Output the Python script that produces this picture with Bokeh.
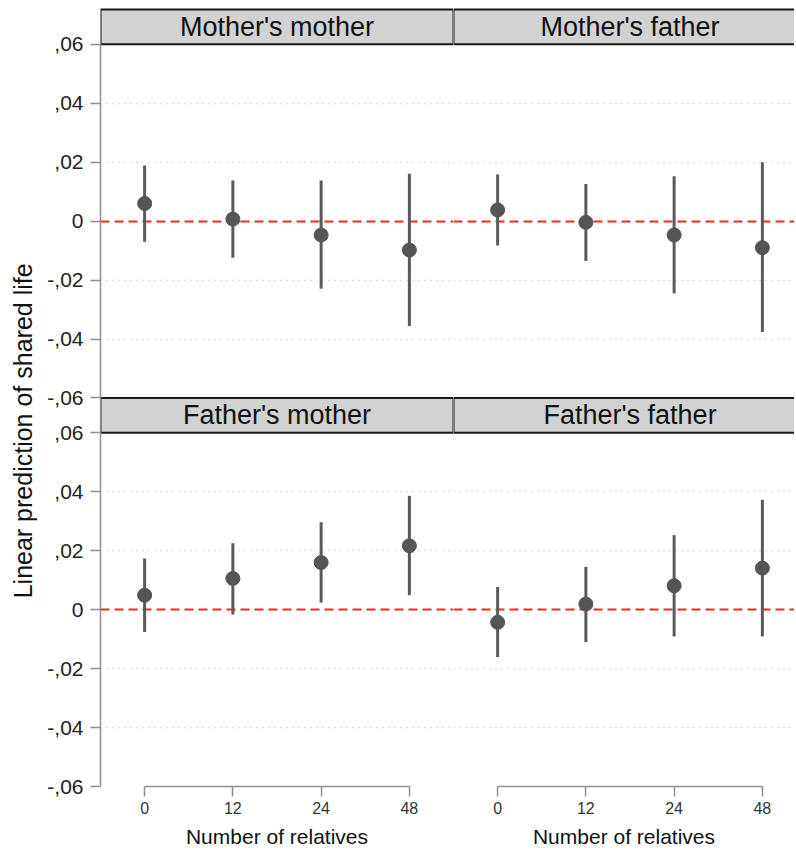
from bokeh.plotting import figure
from bokeh.layouts import row
from bokeh.models import (LinearAxis, FixedTicker, CustomJSTickFormatter, Range1d,
                          Grid, ColumnDataSource)
from bokeh.transform import dodge
from bokeh.core.properties import value
from bokeh.embed import file_html
from bokeh.resources import INLINE

# ---------------- data ----------------
PANEL_TITLES = ["Mother's mother", "Mother's father", "Father's mother", "Father's father"]
X_POS = [1, 2, 3, 4]
X_LABELS = ["0", "12", "24", "48"]
Y_TICKS = [-0.06, -0.04, -0.02, 0, 0.02, 0.04, 0.06]
Y_LABELS = ["-,06", "-,04", "-,02", "0", ",02", ",04", ",06"]
GRID_TICKS = [-0.04, -0.02, 0.02, 0.04]

MM_EST = [0.0060, 0.0007, -0.0047, -0.0098]
MM_LO = [-0.0070, -0.0124, -0.0229, -0.0356]
MM_HI = [0.0189, 0.0138, 0.0138, 0.0161]

MF_EST = [0.0038, -0.0004, -0.0047, -0.0090]
MF_LO = [-0.0083, -0.0135, -0.0245, -0.0376]
MF_HI = [0.0158, 0.0126, 0.0152, 0.0200]

FM_EST = [0.0049, 0.0106, 0.0160, 0.0217]
FM_LO = [-0.0076, -0.0016, 0.0024, 0.0049]
FM_HI = [0.0174, 0.0225, 0.0297, 0.0386]

FF_EST = [-0.0043, 0.0019, 0.0081, 0.0141]
FF_LO = [-0.0161, -0.0110, -0.0091, -0.0091]
FF_HI = [0.0077, 0.0145, 0.0253, 0.0373]

X_TITLE = "Number of relatives"
Y_TITLE = "Linear prediction of shared life"

# ---------------- layout constants ----------------
FONT = "Liberation Sans"
TOTAL_W, TOTAL_H = 794, 850
TITLE_W = 44                         # strip holding the y title
LEFT_B = 100 - TITLE_W               # room for y ticks + tick labels
PAD_TOP = 9
HDR = 35
PNL = 355
FRAME_H = PAD_TOP + 2 * (HDR + PNL)
BOTTOM_B = TOTAL_H - FRAME_H
LEFT_FRAME_W = 353
UNIT = LEFT_FRAME_W / 4.0
RIGHT_FRAME_W = TOTAL_W - 100 - LEFT_FRAME_W
YMIN, YMAX = Y_TICKS[0], Y_TICKS[-1]
DPP = (YMAX - YMIN) / PNL
ROW_OFF = (PNL + HDR) * DPP          # vertical offset of the upper facet row
YTITLE_X_PX = 22                     # centre of the y title, px from the left edge
YTITLE_Y_PX = 432                    # centre of the y title, px from the top

fmt_code = """
const i = tvals.findIndex(t => Math.abs(t - tick) < 1e-9);
return i >= 0 ? tlabels[i] : "";
"""

AX_COL = "#8f8f8f"


def bare_fig(**kw):
    return figure(output_backend="svg", toolbar_location=None,
                  x_axis_type=None, y_axis_type=None, title_location=None,
                  outline_line_color=None, background_fill_color="white",
                  border_fill_color="white", **kw)


def make_fig(is_left, top_panel, bottom_panel):
    fw = LEFT_FRAME_W if is_left else RIGHT_FRAME_W
    p = bare_fig(width=fw + (LEFT_B if is_left else 0), height=TOTAL_H,
                 x_range=Range1d(0.5, 0.5 + fw / UNIT),
                 y_range=Range1d(YMIN, YMIN + FRAME_H * DPP),
                 min_border_left=LEFT_B if is_left else 0, min_border_right=0,
                 min_border_top=0, min_border_bottom=BOTTOM_B)

    # dotted grid lines and red dashed zero lines (both facet rows)
    p.add_layout(Grid(dimension=1,
                      ticker=FixedTicker(ticks=GRID_TICKS + [t + ROW_OFF for t in GRID_TICKS]),
                      grid_line_color="#c4c4c4", grid_line_dash="1 5", grid_line_width=1.3))
    p.add_layout(Grid(dimension=1, ticker=FixedTicker(ticks=[0, ROW_OFF]),
                      grid_line_color="#ee2a24", grid_line_dash="9 5", grid_line_width=2))

    mid = (X_POS[0] + X_POS[-1]) / 2.0
    for (title, est, lo, hi), off in [(top_panel, ROW_OFF), (bottom_panel, 0.0)]:
        p.quad(left=[X_POS[0] - 0.5], right=[X_POS[-1] + 0.5],
               bottom=[YMAX + off], top=[YMAX + HDR * DPP + off],
               fill_color="#d2d2d2", line_color="#1a1a1a", line_width=2)
        p.text(x=[mid], y=[YMAX + HDR * DPP / 2 + off], text=[title],
               text_font=value(FONT), text_font_size="27px", text_color="#111111",
               text_align="center", text_baseline="middle")
        src = ColumnDataSource(dict(x=X_POS, est=est, lo=lo, hi=hi))
        p.segment(x0="x", x1="x", y0=dodge("lo", off), y1=dodge("hi", off), source=src,
                  line_color="#5a5a5a", line_width=3)
        p.scatter(x="x", y=dodge("est", off), source=src, size=14, marker="circle",
                  fill_color="#555555", line_color="#555555")

    if is_left:
        yt = Y_TICKS + [t + ROW_OFF for t in Y_TICKS]
        yl = Y_LABELS + Y_LABELS
        ax = LinearAxis(bounds=(YMIN, YMAX + ROW_OFF), ticker=FixedTicker(ticks=yt),
                        formatter=CustomJSTickFormatter(args=dict(tvals=yt, tlabels=yl),
                                                        code=fmt_code))
        ax.axis_line_color = AX_COL
        ax.axis_line_width = 1.5
        ax.major_tick_line_color = AX_COL
        ax.major_tick_line_width = 1.5
        ax.major_tick_out = 10
        ax.major_tick_in = 0
        ax.minor_tick_out = 0
        ax.minor_tick_in = 0
        ax.major_label_standoff = 7
        ax.major_label_text_font = FONT
        ax.major_label_text_font_size = "21px"
        ax.major_label_text_color = "#222222"
        p.add_layout(ax, "left")

    xa = LinearAxis(bounds=(X_POS[0], X_POS[-1]), ticker=FixedTicker(ticks=X_POS),
                    formatter=CustomJSTickFormatter(args=dict(tvals=X_POS, tlabels=X_LABELS),
                                                    code=fmt_code))
    xa.axis_line_color = AX_COL
    xa.axis_line_width = 1.5
    xa.major_tick_line_color = AX_COL
    xa.major_tick_line_width = 1.5
    xa.major_tick_out = 10
    xa.major_tick_in = 0
    xa.minor_tick_out = 0
    xa.minor_tick_in = 0
    xa.major_label_standoff = 5
    xa.major_label_text_font = FONT
    xa.major_label_text_font_size = "16px"
    xa.major_label_text_color = "#333333"
    xa.axis_label = X_TITLE
    xa.axis_label_standoff = 8
    xa.axis_label_text_font = FONT
    xa.axis_label_text_font_size = "21px"
    xa.axis_label_text_font_style = "normal"
    xa.axis_label_text_color = "#111111"
    p.add_layout(xa, "below")
    return p


# strip carrying the shared y-axis title; its frame is aligned with the panels'
# frames by the row layout, so its y range runs in pixels from the frame top
p_title = bare_fig(width=TITLE_W, height=TOTAL_H,
                   x_range=Range1d(0, TITLE_W), y_range=Range1d(FRAME_H, 0),
                   min_border_left=0, min_border_right=0,
                   min_border_top=0, min_border_bottom=BOTTOM_B)
p_title.text(x=[YTITLE_X_PX], y=[YTITLE_Y_PX], text=[Y_TITLE],
             angle=90, angle_units="deg",
             text_font=value(FONT), text_font_size="25px", text_color="#111111",
             text_align="center", text_baseline="middle")

p_left = make_fig(True, (PANEL_TITLES[0], MM_EST, MM_LO, MM_HI),
                  (PANEL_TITLES[2], FM_EST, FM_LO, FM_HI))
p_right = make_fig(False, (PANEL_TITLES[1], MF_EST, MF_LO, MF_HI),
                   (PANEL_TITLES[3], FF_EST, FF_LO, FF_HI))

layout = row(p_title, p_left, p_right)
open("out.html", "w").write(file_html(layout, INLINE))
